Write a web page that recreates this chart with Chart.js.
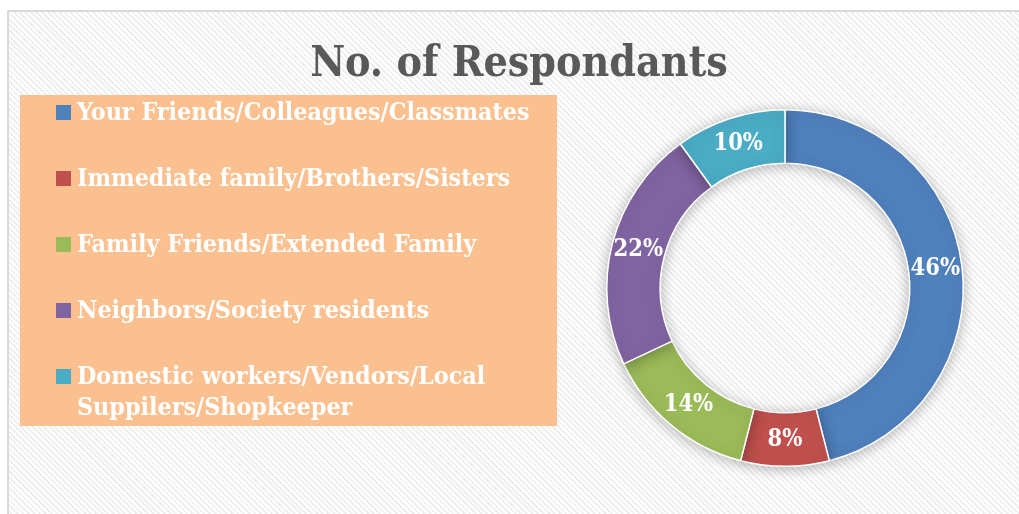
<!DOCTYPE html>
<html>
<head>
<meta charset="utf-8">
<script src="https://cdn.jsdelivr.net/npm/chart.js@4.4.1/dist/chart.umd.min.js"></script>
<style>
  html, body { margin: 0; padding: 0; background: #ffffff; width: 1019px; height: 514px; overflow: hidden; }
  #frame {
    position: absolute; left: 7px; top: 10px; width: 1030px; height: 520px;
    border-left: 2px solid #d9d9d9; border-top: 2px solid #d9d9d9;
    background: repeating-linear-gradient(45deg, #ffffff 0px, #ffffff 2px, #efefef 2px, #efefef 4px);
  }
  #wrap { position: absolute; left: 0; top: 0; width: 1019px; height: 514px; }
</style>
</head>
<body>
<div id="frame"></div>
<div id="wrap"><canvas id="c" width="1019" height="514"></canvas></div>
<script>
const chartTitle = "No. of Respondants";
const categories = [
  "Your Friends/Colleagues/Classmates",
  "Immediate family/Brothers/Sisters",
  "Family Friends/Extended Family",
  "Neighbors/Society residents",
  "Domestic workers/Vendors/Local Suppilers/Shopkeeper"
];
const shares = [46, 8, 14, 22, 10];
const colors = ["#4F81BD", "#C0504D", "#9BBB59", "#8064A2", "#4BACC6"];

const serif = '"DejaVu Serif Condensed", "DejaVu Serif", serif';

const titlePlugin = {
  id: 'customTitle',
  afterDraw(chart) {
    const ctx = chart.ctx;
    ctx.save();
    ctx.font = 'bold 42.5px ' + serif;
    ctx.fillStyle = '#595959';
    ctx.textAlign = 'center';
    ctx.textBaseline = 'alphabetic';
    ctx.fillText(chartTitle, 519, 76);
    ctx.restore();
  }
};

const legendPlugin = {
  id: 'boxLegend',
  afterDraw(chart) {
    const ctx = chart.ctx;
    ctx.save();
    ctx.fillStyle = '#FAC090';
    ctx.fillRect(20, 95, 537, 331);
    ctx.font = 'bold 24.8px ' + serif;
    ctx.textBaseline = 'middle';
    ctx.textAlign = 'left';
    const labels = chart.data.labels;
    const bg = chart.data.datasets[0].backgroundColor;
    const maxW = 470;
    labels.forEach((lab, i) => {
      const y = 112.5 + i * 66;
      ctx.fillStyle = bg[i];
      ctx.fillRect(56, y - 7.5, 15, 15);
      const words = lab.split(' ');
      const lines = [];
      let cur = '';
      words.forEach(w => {
        const t = cur ? cur + ' ' + w : w;
        if (ctx.measureText(t).width > maxW && cur) { lines.push(cur); cur = w; }
        else cur = t;
      });
      if (cur) lines.push(cur);
      ctx.fillStyle = '#ffffff';
      lines.forEach((ln, k) => ctx.fillText(ln, 77, y + 1 + k * 31));
    });
    ctx.restore();
  }
};

const valueLabels = {
  id: 'valueLabels',
  afterDatasetsDraw(chart) {
    const ctx = chart.ctx;
    const meta = chart.getDatasetMeta(0);
    const data = chart.data.datasets[0].data;
    const total = data.reduce((a, b) => a + b, 0);
    ctx.save();
    ctx.font = 'bold 23.5px ' + serif;
    ctx.fillStyle = '#ffffff';
    ctx.textAlign = 'center';
    ctx.textBaseline = 'middle';
    meta.data.forEach((arc, i) => {
      const p = arc.tooltipPosition();
      ctx.fillText(Math.round(data[i] / total * 100) + '%', p.x, p.y);
    });
    ctx.restore();
  }
};

const shadowPlugin = {
  id: 'ringShadow',
  beforeDatasetsDraw(chart) {
    const ctx = chart.ctx;
    ctx.save();
    ctx.shadowColor = 'rgba(0,0,0,0.28)';
    ctx.shadowBlur = 14;
    ctx.shadowOffsetX = 0;
    ctx.shadowOffsetY = 2;
  },
  afterDatasetsDraw(chart) {
    chart.ctx.restore();
  }
};

new Chart(document.getElementById('c'), {
  type: 'doughnut',
  data: {
    labels: categories,
    datasets: [{
      data: shares,
      backgroundColor: colors,
      borderColor: '#ffffff',
      borderWidth: 1.5,
      hoverOffset: 0
    }]
  },
  options: {
    responsive: false,
    animation: false,
    cutout: '70%',
    layout: { padding: { left: 606, right: 55, top: 109, bottom: 47 } },
    plugins: {
      legend: { display: false },
      title: { display: false },
      tooltip: { enabled: false }
    }
  },
  plugins: [shadowPlugin, valueLabels, titlePlugin, legendPlugin]
});
</script>
</body>
</html>
